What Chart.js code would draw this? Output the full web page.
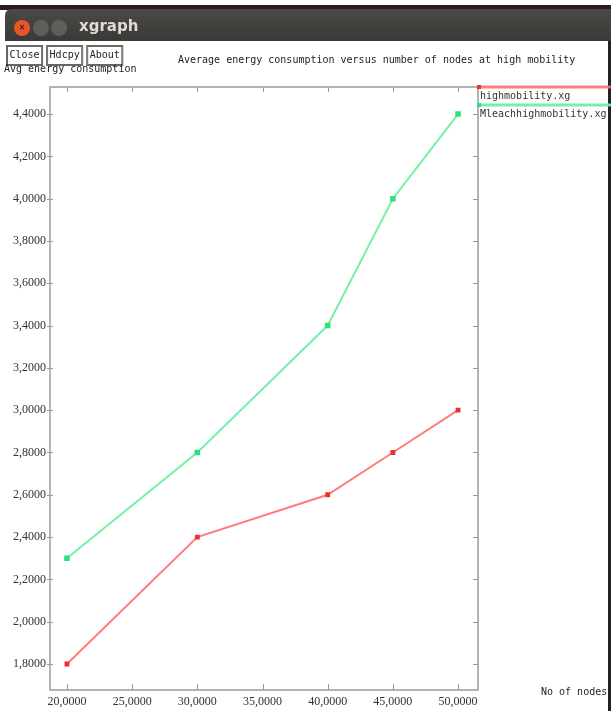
<!DOCTYPE html>
<html>
<head>
<meta charset="utf-8">
<title>xgraph</title>
<script src="https://cdn.jsdelivr.net/npm/chart.js@4/dist/chart.umd.min.js"></script>
<style>
  html, body { margin: 0; padding: 0; background: #ffffff; }
  #wrap { width: 611px; height: 711px; position: relative; }
</style>
</head>
<body>
<div id="wrap"><canvas id="c" width="611" height="711"></canvas></div>
<script>
// Number of nodes (x) and average energy consumption (y) per data file
const nodes = [20, 30, 40, 45, 50];
const highMobility = [1.8, 2.4, 2.6, 2.8, 3.0];
const mleachHighMobility = [2.3, 2.8, 3.4, 4.0, 4.4];
const seriesNames = ['highmobility.xg', 'Mleachhighmobility.xg'];
const xTicks = [20, 25, 30, 35, 40, 45, 50];
const yTicks = [1.8, 2.0, 2.2, 2.4, 2.6, 2.8, 3.0, 3.2, 3.4, 3.6, 3.8, 4.0, 4.2, 4.4];
const windowTitle = 'xgraph';
const plotTitle = 'Average energy consumption versus number of nodes at high mobility';
const yAxisTitle = 'Avg energy consumption';
const xAxisTitle = 'No of nodes';
const buttons = ['Close', 'Hdcpy', 'About'];

const MONO = '"DejaVu Sans Mono", "Liberation Mono", monospace';
const TICKFONT = '"Liberation Serif", "DejaVu Serif", serif';
const fmt = v => v.toFixed(4).replace('.', ',');

const toPoints = ys => nodes.map((x, i) => ({ x, y: ys[i] }));

// Window frame, buttons, titles, axis ticks and the side legend
const xgraphFrame = {
  id: 'xgraphFrame',
  beforeDraw(chart) {
    const ctx = chart.ctx;
    ctx.save();
    ctx.fillStyle = '#ffffff';
    ctx.fillRect(0, 0, chart.width, chart.height);
    ctx.restore();
  },
  afterDraw(chart) {
    const ctx = chart.ctx;
    const a = chart.chartArea;
    const xs = chart.scales.x, ys = chart.scales.y;
    ctx.save();

    // desktop strip and title bar
    ctx.fillStyle = '#2c1a27';
    ctx.fillRect(0, 5, chart.width, 5);
    const g = ctx.createLinearGradient(0, 9, 0, 41);
    g.addColorStop(0, '#4a4945');
    g.addColorStop(1, '#3a3935');
    ctx.fillStyle = g;
    ctx.beginPath();
    ctx.moveTo(5, 41);
    ctx.lineTo(5, 16);
    ctx.quadraticCurveTo(5, 9, 12, 9);
    ctx.lineTo(chart.width, 9);
    ctx.lineTo(chart.width, 41);
    ctx.closePath();
    ctx.fill();

    // window buttons
    const circ = (cx, col) => {
      ctx.beginPath();
      ctx.arc(cx, 28, 8, 0, Math.PI * 2);
      ctx.fillStyle = col;
      ctx.fill();
    };
    circ(22, '#e9552a');
    circ(41, '#5f5e5a');
    circ(59, '#5f5e5a');
    ctx.fillStyle = '#3a2a24';
    ctx.font = 'bold 8px "DejaVu Sans", sans-serif';
    ctx.textAlign = 'center';
    ctx.textBaseline = 'middle';
    ctx.fillText('×', 22, 28);
    ctx.fillStyle = '#dfdbd2';
    ctx.font = 'bold 15px "DejaVu Sans", "Liberation Sans", sans-serif';
    ctx.textAlign = 'left';
    ctx.fillText(windowTitle, 79, 27);

    // right window border
    ctx.fillStyle = '#222222';
    ctx.fillRect(608, 41, 3, chart.height - 41);

    // command buttons
    ctx.font = '10px ' + MONO;
    ctx.textBaseline = 'middle';
    let bx = 6;
    buttons.forEach(label => {
      const w = ctx.measureText(label).width + 6;
      ctx.strokeStyle = '#666666';
      ctx.lineWidth = 1;
      ctx.strokeRect(bx + 0.5, 45.5, w, 20);
      ctx.strokeRect(bx + 1.5, 46.5, w - 2, 18);
      ctx.fillStyle = '#222222';
      ctx.fillText(label, bx + 3.5, 55.5);
      bx += w + 4;
    });

    // titles
    ctx.fillStyle = '#222222';
    ctx.textAlign = 'left';
    ctx.fillText(plotTitle, 178, 60);
    ctx.fillText(yAxisTitle, 4, 69);
    ctx.fillText(xAxisTitle, 541, 692);

    // frame around the plot area
    ctx.strokeStyle = '#b4b4b4';
    ctx.lineWidth = 2;
    ctx.beginPath();
    ctx.moveTo(a.left, a.top);
    ctx.lineTo(a.right, a.top);
    ctx.lineTo(a.right, a.bottom);
    ctx.lineTo(a.left, a.bottom);
    ctx.closePath();
    ctx.stroke();

    // tick marks on all four sides
    ctx.lineWidth = 1;
    ctx.strokeStyle = '#9a9a9a';
    xTicks.forEach(v => {
      const px = Math.round(xs.getPixelForValue(v)) + 0.5;
      ctx.beginPath();
      ctx.moveTo(px, a.bottom); ctx.lineTo(px, a.bottom - 6);
      ctx.moveTo(px, a.top); ctx.lineTo(px, a.top + 5);
      ctx.stroke();
    });
    yTicks.forEach(v => {
      const py = Math.round(ys.getPixelForValue(v)) + 0.5;
      ctx.beginPath();
      ctx.moveTo(a.left - 3, py); ctx.lineTo(a.left + 3, py);
      ctx.moveTo(a.right, py); ctx.lineTo(a.right - 5, py);
      ctx.stroke();
    });

    // side legend: one coloured line per data set with its file name below
    ctx.font = '10px ' + MONO;
    ctx.textBaseline = 'middle';
    chart.data.datasets.forEach((ds, i) => {
      const ly = a.top + i * 18;
      ctx.strokeStyle = ds.borderColor;
      ctx.lineWidth = 3;
      ctx.beginPath();
      ctx.moveTo(a.right, ly);
      ctx.lineTo(chart.width, ly);
      ctx.stroke();
      ctx.fillStyle = ds.pointBackgroundColor;
      ctx.fillRect(a.right - 1, ly - 2, 4, 4);
      ctx.fillStyle = '#333333';
      ctx.fillText(ds.label, a.right + 2, ly + 9);
    });

    ctx.restore();
  }
};

new Chart(document.getElementById('c'), {
  type: 'line',
  data: {
    datasets: [
      {
        label: seriesNames[0],
        data: toPoints(highMobility),
        borderColor: 'rgba(255, 110, 110, 0.9)',
        backgroundColor: 'rgba(255, 110, 110, 0.9)',
        pointBackgroundColor: '#f03030',
        pointBorderColor: '#f03030',
        pointStyle: 'rect',
        pointRadius: 2,
        borderWidth: 2,
        tension: 0
      },
      {
        label: seriesNames[1],
        data: toPoints(mleachHighMobility),
        borderColor: 'rgba(110, 240, 160, 0.95)',
        backgroundColor: 'rgba(110, 240, 160, 0.95)',
        pointBackgroundColor: '#30e080',
        pointBorderColor: '#30e080',
        pointStyle: 'rect',
        pointRadius: 2.5,
        borderWidth: 2,
        tension: 0
      }
    ]
  },
  options: {
    responsive: false,
    animation: false,
    devicePixelRatio: 1,
    layout: { padding: { left: 0, top: 87, right: 133, bottom: 0 } },
    plugins: { legend: { display: false }, tooltip: { enabled: false }, title: { display: false } },
    scales: {
      x: {
        type: 'linear',
        min: 18.7,
        max: 51.53,
        afterBuildTicks: s => { s.ticks = xTicks.map(v => ({ value: v })); },
        afterFit: s => { s.height = 21; },
        grid: { display: false, drawTicks: false },
        border: { display: false },
        ticks: {
          callback: v => fmt(v),
          font: { family: TICKFONT, size: 12 },
          color: '#333333',
          padding: 5,
          maxRotation: 0,
          autoSkip: false
        }
      },
      y: {
        type: 'linear',
        min: 1.677,
        max: 4.528,
        afterBuildTicks: s => { s.ticks = yTicks.map(v => ({ value: v })); },
        afterFit: s => { s.width = 50; },
        grid: { display: false, drawTicks: false },
        border: { display: false },
        ticks: {
          callback: v => fmt(v),
          font: { family: TICKFONT, size: 12 },
          color: '#333333',
          padding: 4,
          autoSkip: false
        }
      }
    }
  },
  plugins: [xgraphFrame]
});
</script>
</body>
</html>
